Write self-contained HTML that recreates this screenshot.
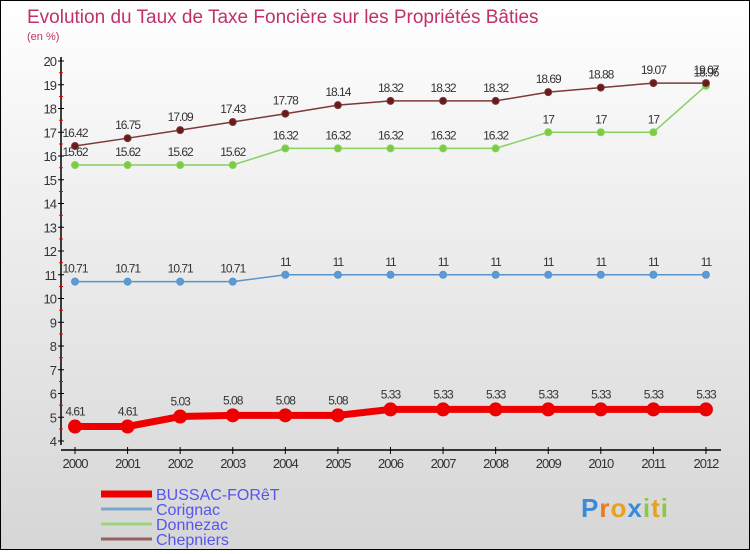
<!DOCTYPE html>
<html><head><meta charset="utf-8"><style>
body{margin:0}
#c{width:748px;height:548px;border:1px solid #000;background:linear-gradient(#fff,#f2f2f2 30%,#d6d6d6);position:relative;font-family:"Liberation Sans",sans-serif}
</style></head><body>
<div id="c">
<svg id="s" width="748" height="548" xmlns="http://www.w3.org/2000/svg"></svg>
</div>
<script>
const years=[2000,2001,2002,2003,2004,2005,2006,2007,2008,2009,2010,2011,2012];
const bussac=[4.61,4.61,5.03,5.08,5.08,5.08,5.33,5.33,5.33,5.33,5.33,5.33,5.33];
const corignac=[10.71,10.71,10.71,10.71,11,11,11,11,11,11,11,11,11];
const donnezac=[15.62,15.62,15.62,15.62,16.32,16.32,16.32,16.32,16.32,17,17,17,18.96];
const chepniers=[16.42,16.75,17.09,17.43,17.78,18.14,18.32,18.32,18.32,18.69,18.88,19.07,19.07];
const yTicks=[4,5,6,7,8,9,10,11,12,13,14,15,16,17,18,19,20];
const NS='http://www.w3.org/2000/svg';
const s=document.getElementById('s');
const X=i=>74+i*52.58;
const Y=v=>440-(v-4)*23.75;
function el(t,a,p){const e=document.createElementNS(NS,t);for(const k in a)e.setAttribute(k,a[k]);(p||s).appendChild(e);return e;}
let t=el('text',{x:26,y:22,'font-size':19,fill:'#c0306a'});t.textContent='Evolution du Taux de Taxe Foncière sur les Propriétés Bâties';

t=el('text',{x:26,y:39,'font-size':11,fill:'#c0306a'});t.textContent='(en %)';

let ax=el('line',{x1:60,y1:56,x2:60,y2:444,stroke:'#000','stroke-width':1.5});

ax=el('line',{x1:60,y1:449,x2:720,y2:449,stroke:'#000','stroke-width':1.5});

yTicks.forEach(v=>{const y=Y(v);
el('line',{x1:57,x2:63,y1:y,y2:y,stroke:'#000'});
if(v<20)el('line',{x1:58,x2:62,y1:y-12,y2:y-12,stroke:'#e00'});
const l=el('text',{x:55,y:y+5,'font-size':13,fill:'#333','text-anchor':'end','letter-spacing':'-1'});l.textContent=v;
});
years.forEach((yr,i)=>{const x=X(i);el('line',{x1:x,x2:x,y1:446,y2:453,stroke:'#000'});
const l=el('text',{x:x,y:467,'font-size':13,fill:'#333','text-anchor':'middle','letter-spacing':'-1'});l.textContent=yr;
});
function series(d,col,dot,w,r,name){
const g=el('g',{});
el('polyline',{points:d.map((v,i)=>X(i)+','+Y(v)).join(' '),fill:'none',stroke:col,'stroke-width':w,'stroke-linejoin':'round'},g);
d.forEach((v,i)=>{const c=el('circle',{cx:X(i),cy:Y(v),r:r,fill:dot,stroke:col,'stroke-width':1},g);

const l=el('text',{x:X(i),y:Y(v)-9-(r>4?2:0),'font-size':12,fill:'#333','text-anchor':'middle','letter-spacing':'-1'},g);l.textContent=v;
});}
series(corignac,'#5a94c8','#5a9ad6',1.5,3.5,'series-corignac');
series(donnezac,'#88d060','#7ccc40',1.5,3.5,'series-donnezac');
series(chepniers,'#7a3a3a','#6a1a1a',1.5,3.5,'series-chepniers');
series(bussac,'#ee0000','#ee0000',7,6.5,'series-bussac');
const leg=[['BUSSAC-FORêT','#ee0000',7],['Corignac','#7aa8cc',3],['Donnezac','#9ed47e',3],['Chepniers','#9a6060',3]];
leg.forEach((L,i)=>{const y=493+i*15;const g=el('g',{});

el('line',{x1:100,x2:151,y1:y,y2:y,stroke:L[1],'stroke-width':L[2]},g);
const l=el('text',{x:155,y:y+6,'font-size':16,fill:'#5555ee'},g);l.textContent=L[0];});
const lg=el('text',{x:580,y:516,'font-size':26,'font-weight':'bold','letter-spacing':'1'});

[['P','#3a8ad8'],['r','#e87a20'],['o','#e8a020'],['x','#3a8ad8'],['i','#8cc840'],['t','#e8a020'],['i','#8cc840']].forEach(p=>{const ts=el('tspan',{fill:p[1]},lg);ts.textContent=p[0];});
</script>
</body></html>
